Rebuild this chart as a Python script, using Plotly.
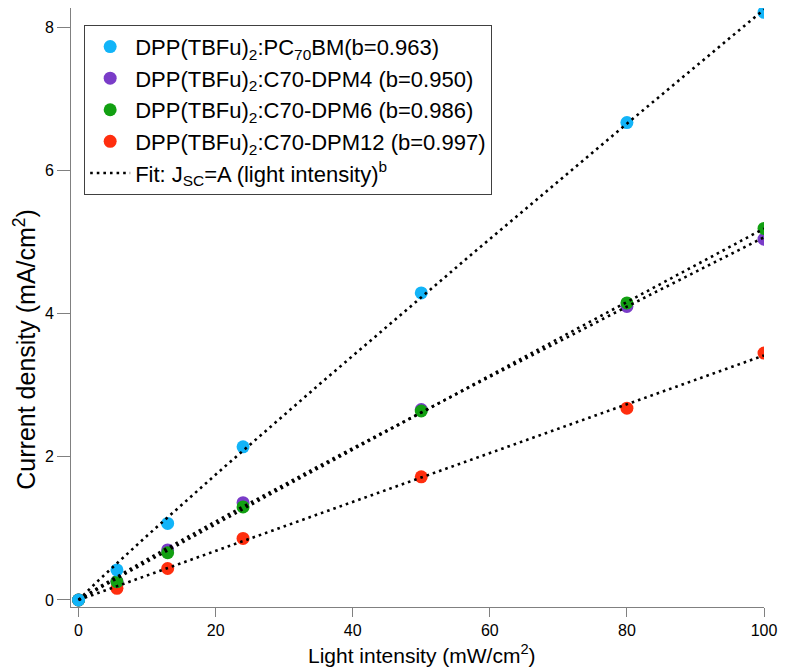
import numpy as np
import plotly.graph_objects as go

# ---- data ----
intensity = [0, 5.6, 13, 24, 50, 80, 100]
j_pc70bm = [0.0, 0.42, 1.07, 2.14, 4.29, 6.67, 8.21]
j_dpm4 = [0.0, 0.26, 0.70, 1.36, 2.66, 4.10, 5.04]
j_dpm6 = [0.0, 0.256, 0.66, 1.30, 2.64, 4.15, 5.19]
j_dpm12 = [0.0, 0.163, 0.44, 0.86, 1.72, 2.68, 3.45]
b_values = [0.963, 0.950, 0.986, 0.997]
x_ticks = [0, 20, 40, 60, 80, 100]
y_ticks = [0, 2, 4, 6, 8]

names = [
    "DPP(TBFu)<sub>2</sub>:PC<sub>70</sub>BM(b=0.963)",
    "DPP(TBFu)<sub>2</sub>:C70-DPM4 (b=0.950)",
    "DPP(TBFu)<sub>2</sub>:C70-DPM6 (b=0.986)",
    "DPP(TBFu)<sub>2</sub>:C70-DPM12 (b=0.997)",
]
fit_name = "Fit: J<sub>SC</sub>=A (light intensity)<sup>b</sup>"
x_title = "Light intensity (mW/cm<sup>2</sup>)"
y_title = "Current density (mA/cm<sup>2</sup>)"
colors = ["#12B4F8", "#7A3CC8", "#12A012", "#FF2E0E"]
series = [j_pc70bm, j_dpm4, j_dpm6, j_dpm12]

FONT = "Arial, 'Liberation Sans', sans-serif"

fig = go.Figure()

# markers drawn in order so overlaps match: red, purple, green, blue
for idx in [3, 1, 2, 0]:
    fig.add_trace(go.Scatter(
        x=intensity, y=series[idx], mode="markers", name=names[idx],
        marker=dict(color=colors[idx], size=13, line=dict(width=0)),
        legendrank=idx + 1,
    ))

# power-law fits J = A * I^b with fixed b, A by least squares
x_arr = np.array(intensity, dtype=float)
xf = np.linspace(0, 100, 201)
for idx in range(4):
    b = b_values[idx]
    y_arr = np.array(series[idx], dtype=float)
    A = np.sum(y_arr * x_arr ** b) / np.sum(x_arr ** (2 * b))
    fig.add_trace(go.Scatter(
        x=xf, y=A * xf ** b, mode="lines", name=fit_name,
        line=dict(color="black", width=2.6, dash="2.6px,4px"),
        showlegend=(idx == 0), legendrank=5,
    ))

axis_common = dict(
    showgrid=False, zeroline=False, showline=True, linecolor="#808080",
    linewidth=1, ticks="outside", tickcolor="#808080", tickwidth=1,
    tickfont=dict(family=FONT, size=16, color="black"),
)

fig.update_layout(
    width=785, height=668,
    margin=dict(l=71, r=18, t=8, b=61),
    plot_bgcolor="white", paper_bgcolor="white",
    font=dict(family=FONT, color="black"),
    xaxis=dict(range=[-1.1, 100], tickvals=x_ticks, ticklen=9, **axis_common),
    yaxis=dict(range=[-0.098, 8.27], tickvals=y_ticks, ticklen=13, **axis_common),
    legend=dict(
        x=0.019, y=0.972, xanchor="left", yanchor="top",
        bordercolor="#404040", borderwidth=1, bgcolor="white",
        font=dict(family=FONT, size=22, color="black"),
        traceorder="normal", itemwidth=40,
    ),
    showlegend=True,
    annotations=[
        dict(text=x_title, xref="paper", yref="paper", x=0.506, y=-0.104,
             xanchor="center", yanchor="bottom", showarrow=False,
             font=dict(family=FONT, size=21, color="black")),
        dict(text=y_title, xref="paper", yref="paper", x=-0.04, y=0.43,
             xanchor="right", yanchor="middle", textangle=-90, showarrow=False,
             font=dict(family=FONT, size=25, color="black")),
    ],
)

fig.write_html("out.html")
